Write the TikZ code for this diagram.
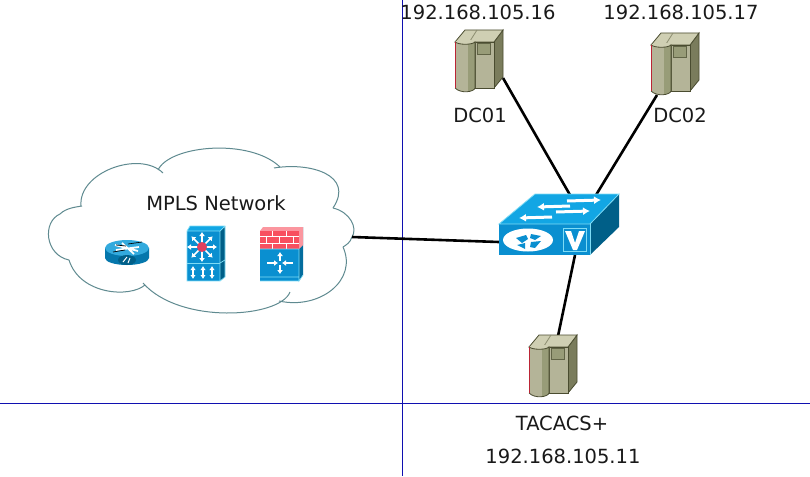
\documentclass[tikz,border=0pt]{standalone}
\usepackage{fontspec}
\setmainfont{DejaVu Sans}
\usetikzlibrary{arrows.meta}
\definecolor{cloudc}{HTML}{5F8A90}
\definecolor{rulec}{HTML}{1010B0}
\definecolor{cblue}{HTML}{0A8FD0}
\definecolor{ctop}{HTML}{12A6E4}
\definecolor{cside}{HTML}{005F88}
\definecolor{cedge}{HTML}{7FDCF5}
\definecolor{cbrick}{HTML}{F8505F}
\definecolor{cred}{HTML}{E0405F}
\definecolor{srvF}{HTML}{B4B498}
\definecolor{srvT}{HTML}{CFCFB3}
\definecolor{srvS}{HTML}{7A7C5C}
\definecolor{srvC}{HTML}{989C78}
\definecolor{srvD}{HTML}{4A4C30}
\tikzset{
 x=1pt,y=-1pt,
 lbl/.style={font=\fontsize{19.5}{22}\selectfont,text=black!90,inner sep=0pt},
 link/.style={line width=2.6pt,black},
 rulel/.style={line width=1pt,rulec},
 cloudl/.style={line width=1pt,cloudc},
 whitearrow/.style={white,line width=1.5pt,-{Latex[length=4pt,width=6pt]}},
 bigarrow/.style={white,line width=3pt,-{Latex[length=7pt,width=8pt]}},
 whitearrows/.style={white,line width=1.5pt,{Latex[length=4pt,width=5.5pt]}-{Latex[length=4pt,width=5.5pt]}},
 serveric/.pic={
  \fill[srvS,draw=srvD,line width=.8pt] (39,12)--(48,0)--(48,47)--(39,58)--cycle;
  \fill[srvT,draw=srvD,line width=.8pt] (0,12)--(10,0)--(48,0)--(39,12)--cycle;
  \draw[srvD!50!srvT,line width=.8pt] (22,0)--(15,11);
  \fill[srvF,draw=srvD,line width=.8pt] (20,12)--(39,12)--(39,58)--(20,58)--cycle;
  \fill[srvF] (0,12) .. controls (4,15) and (17,15) .. (20,12)--(20,58) .. controls (19,62) and (6,64) .. (0,58)--cycle;
  \fill[srvC] (13,14)--(20,12)--(20,58) .. controls (19,60) and (16,61) .. (13,62)--cycle;
  \fill[srvT] (0,12) .. controls (4,15) and (17,15) .. (20,12) -- (16,10) -- (3,10)--cycle;
  \draw[srvD,line width=.8pt] (0,12) .. controls (4,15) and (17,15) .. (20,12)--(20,58) .. controls (19,62) and (6,64) .. (0,58);
  \draw[cred!70!red!80!black,line width=1pt] (0,12)--(0,58);
  \fill[srvC,draw=srvD!70!srvC,line width=.8pt] (22,13.5)--(35,13.5)--(35,24.5)--(22,24.5)--cycle;
 }
}
\begin{document}
\begin{tikzpicture}
\useasboundingbox (0,0) rectangle (810,476);
\fill[white] (0,0) rectangle (810,476);
% rules
\coordinate (vt) at (402.5,0); \coordinate (vb) at (402.5,476);
\coordinate (hl) at (0,403.5); \coordinate (hr) at (810,403.5);
\draw[rulel] (vt)--(vb);
\draw[rulel] (hl)--(hr);
% cloud
\draw[cloudl] (81,206) .. controls (78,172) and (140,150) .. (163,173);
\draw[cloudl] (158,170) .. controls (170,145) and (250,138) .. (280,167);
\draw[cloudl] (274,168) .. controls (310,162) and (355,175) .. (333,208);
\draw[cloudl] (333,208) .. controls (350,212) and (358,228) .. (352,237) .. controls (350,243) and (346,245) .. (343,247);
\draw[cloudl] (343,247) .. controls (358,280) and (320,310) .. (279,301);
\draw[cloudl] (290,292) .. controls (280,318) and (180,325) .. (143,283);
\draw[cloudl] (145,285) .. controls (130,298) and (80,295) .. (69,260);
\draw[cloudl] (69,260) .. controls (45,255) and (42,222) .. (60,214) .. controls (66,208) and (76,207) .. (82,206);
% connector ends
\coordinate (cloudR) at (352,237);
\coordinate (swL) at (499,242);
\coordinate (swT1) at (570,195);
\coordinate (swT2) at (596,195);
\coordinate (swB) at (575,255);
\coordinate (dcA) at (503,78);
\coordinate (dcB) at (657,95);
\coordinate (tac) at (558,336);
\draw[link] (cloudR)--(swL);
\draw[link] (dcA)--(swT1);
\draw[link] (dcB)--(swT2);
\draw[link] (swB)--(tac);
% servers
\pic at (455,30) {serveric};
\pic at (651,33) {serveric};
\pic at (529,335) {serveric};
% main switch
\fill[cside] (590,224)--(619,194)--(619,227)--(590,255)--cycle;
\fill[ctop] (499,224)--(535,194)--(619,194)--(590,224)--cycle;
\fill[cblue] (499,224) rectangle (590,255);
\draw[cedge,line width=.8pt] (499,224)--(535,194)--(619,194)--(590,224)--cycle;
\draw[cedge,line width=.6pt] (590,224)--(590,255);
\draw[bigarrow] (567,201)--(601,200);
\draw[bigarrow] (570,206)--(537,207);
\draw[bigarrow] (556,212)--(590,211);
\draw[bigarrow] (552,217)--(519,218);
\fill[white] (528,240) ellipse [x radius=25pt,y radius=11.5pt];
\fill[cblue] (516,238)--(526,235)--(528,239)--(522,243)--cycle;
\fill[cblue] (531,234)--(541,236)--(535,240)--(530,238)--cycle;
\fill[cblue] (517,245)--(525,243)--(525,249)--cycle;
\fill[cblue] (531,242)--(541,241)--(535,248)--(530,247)--cycle;
\draw[cedge,line width=.9pt] (563,228) rectangle (586,251);
\fill[white] (565,231)--(571,231)--(575,243)--(579,231)--(585,231)--(577,250)--(573,250)--cycle;
% router
\fill[cside!50!cblue] (105,248)--(105,258) arc [start angle=180,end angle=0,x radius=22pt,y radius=-7pt]--(149,248)--cycle;
\fill[cedge!35!cblue] (127,248) ellipse [x radius=22pt,y radius=8pt];
\draw[white,line width=1.8pt] (116,250)--(139,247) (115,245)--(138,251) (122,243)--(134,254);
\draw[black,line width=.7pt] (116,245)--(126,246) (128,244)--(142,242) (113,252)--(125,250);
\fill[cside] (127,260) ellipse [x radius=9pt,y radius=5pt];
\draw[white,line width=1pt] (123,262)--(127,257) (128,263)--(130,258);
% multilayer switch
\fill[cside] (220,231)--(225,226)--(225,277)--(220,281)--cycle;
\fill[ctop] (187,231)--(190,226)--(225,226)--(220,231)--cycle;
\fill[cblue] (187,231) rectangle (220,281);
\draw[cedge,line width=.7pt] (187,231) rectangle (220,281) (187,231)--(190,226)--(225,226)--(225,277)--(220,281) (220,231)--(225,226);
\draw[cedge,line width=.7pt] (187,263)--(220,263);
\draw[cedge,line width=.7pt] (220,263)--(225,260);
\foreach \a in {0,45,...,315}{
 \draw[whitearrow,line width=1.7pt] (202,247) -- ++(\a:15);
}
\fill[cred] (202,247) circle [radius=5pt];
\draw[whitearrows,line width=1.7pt] (193,266)--(193,279);
\draw[whitearrows,line width=1.7pt] (203,266)--(203,279);
\draw[whitearrows,line width=1.7pt] (212,266)--(212,279);
% firewall
\fill[cside!70!cblue] (299,231)--(303,227)--(303,275)--(299,281)--cycle;
\fill[cbrick!60!white] (260,231)--(263,227)--(303,227)--(303,245)--(299,249)--(299,231)--cycle;
\fill[cbrick] (260,231) rectangle (299,249);
\fill[cblue] (260,249) rectangle (299,281);
\draw[white,line width=.7pt] (260,236)--(299,236) (260,243)--(299,243) (272,231)--(272,236) (286,231)--(286,236) (266,236)--(266,243) (279,236)--(279,243) (293,236)--(293,243) (272,243)--(272,249) (286,243)--(286,249);
\draw[cedge,line width=.7pt] (260,249)--(299,249) (260,277)--(299,277) (260,281)--(299,281) (299,249)--(299,281)--(303,275);
\draw[whitearrow,line width=1.8pt] (267,263)--(278,263);
\draw[whitearrow,line width=1.8pt] (293,263)--(282,263);
\draw[whitearrow,line width=1.8pt] (280,261)--(280,252);
\draw[whitearrow,line width=1.8pt] (280,265)--(280,274);
% labels
\node[lbl] (ip16) at (478,12) {192.168.105.16};
\node[lbl] (ip17) at (681,12) {192.168.105.17};
\node[lbl] (dc01) at (480,115) {DC01};
\node[lbl] (dc02) at (680,115) {DC02};
\node[lbl] (mpls) at (216,203) {MPLS Network};
\node[lbl] (tacacs) at (562,423) {TACACS+};
\node[lbl] (ip11) at (563,456) {192.168.105.11};
\end{tikzpicture}
\end{document}
